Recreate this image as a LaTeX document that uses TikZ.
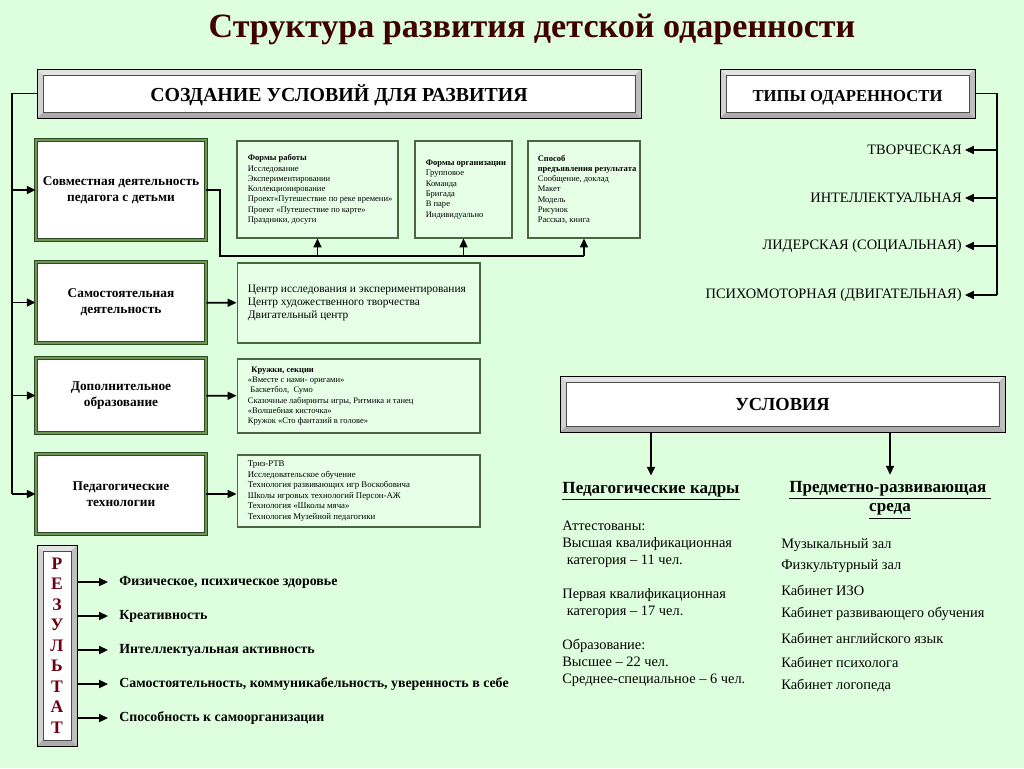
\documentclass[tikz,border=0pt]{standalone}
\usepackage{fontspec}
\setmainfont{Liberation Serif}
\usetikzlibrary{arrows.meta,positioning}

\definecolor{bgmint}{RGB}{222,255,222}
\definecolor{titlered}{RGB}{64,0,0}
\definecolor{letterred}{RGB}{110,0,20}
\definecolor{framegreen}{RGB}{45,75,35}
\definecolor{framelight}{RGB}{110,150,85}
\definecolor{detailline}{RGB}{75,100,65}
\definecolor{detailfill}{RGB}{230,255,230}

\newcommand{\bev}{3.4pt}

\tikzset{
  bevelbox/.style={draw=black, line width=.4pt, fill=white, inner sep=0pt,
    path picture={
      \path (path picture bounding box.north west) coordinate (bnw)
            (path picture bounding box.north east) coordinate (bne)
            (path picture bounding box.south west) coordinate (bsw)
            (path picture bounding box.south east) coordinate (bse);
      \fill[gray!22] (bnw) -- (bne) -- ([shift={(-\bev,-\bev)}]bne) -- ([shift={(\bev,-\bev)}]bnw) -- cycle;
      \fill[gray!35] (bnw) -- (bsw) -- ([shift={(\bev,\bev)}]bsw) -- ([shift={(\bev,-\bev)}]bnw) -- cycle;
      \fill[gray!50] (bne) -- (bse) -- ([shift={(-\bev,\bev)}]bse) -- ([shift={(-\bev,-\bev)}]bne) -- cycle;
      \fill[gray!65] (bsw) -- (bse) -- ([shift={(-\bev,\bev)}]bse) -- ([shift={(\bev,\bev)}]bsw) -- cycle;
      \draw[black!70, line width=.3pt] ([shift={(\bev,-\bev)}]bnw) rectangle ([shift={(-\bev,\bev)}]bse);
    }},
  leftbox/.style={draw=framegreen, double=framelight, double distance=1.4pt, line width=.5pt,
    fill=white, align=center, minimum width=3.4cm, inner sep=1pt,
    font=\fontsize{7.6}{9}\selectfont\bfseries},
  detailbox/.style={draw=detailline, line width=.6pt, fill=detailfill, inner sep=0pt},
  tinytext/.style={align=left, inner sep=0pt, font=\fontsize{4.85}{5.85}\selectfont},
  bodytext/.style={align=left, font=\fontsize{8.2}{9.64}\selectfont},
  conn/.style={line width=1pt},
  arr/.style={conn, -{Triangle[length=5pt,width=4.5pt]}},
  node distance=0.22cm
}

\begin{document}
\begin{tikzpicture}[x=0.02cm,y=-0.02cm]
  \useasboundingbox (0,0) rectangle (1024,768);
  \fill[bgmint] (0,0) rectangle (1024,768);

  \node[font=\fontsize{19.4}{22}\selectfont\bfseries, text=titlered] (title) at (532,29)
    {Структура развития детской одаренности};

  % headers
  \node[bevelbox, minimum width=12.08cm, minimum height=.98cm, text height=1.15em,
    font=\fontsize{11.3}{13}\selectfont\bfseries]
    (sozd) at (339,93.5) {СОЗДАНИЕ УСЛОВИЙ ДЛЯ РАЗВИТИЯ};
  \node[bevelbox, minimum width=5.1cm, minimum height=.98cm, text height=1.15em,
    font=\fontsize{9.5}{11}\selectfont\bfseries]
    (tipy) at (847.5,93.5) {ТИПЫ ОДАРЕННОСТИ};
  \node[bevelbox, minimum width=8.9cm, minimum height=1.12cm, font=\fontsize{10.5}{12}\selectfont\bfseries]
    (uslov) at (782.5,404) {УСЛОВИЯ};
  \node[bevelbox, minimum width=.8cm, minimum height=4.02cm, align=center, text=letterred,
    font=\fontsize{10}{11.7}\selectfont\bfseries]
    (rezult) at (57,645.5) {Р\\Е\\З\\У\\Л\\Ь\\Т\\А\\Т};

  % left column
  \node[leftbox, minimum height=2cm] (sovm) at (121,190) {Совместная деятельность\\педагога с детьми};
  \node[leftbox, minimum height=1.62cm] (samo) at (121,302.5) {Самостоятельная\\деятельность};
  \node[leftbox, minimum height=1.5cm] (dopo) at (121,395.5) {Дополнительное\\образование};
  \node[leftbox, minimum height=1.6cm] (pedt) at (121,494) {Педагогические\\технологии};

  % detail boxes
  \node[detailbox, minimum width=3.22cm, minimum height=1.94cm] (forms) at (317.5,189.5) {};
  \node[detailbox, minimum width=1.94cm, minimum height=1.94cm] (orgs) at (463.5,189.5) {};
  \node[detailbox, minimum width=2.24cm, minimum height=1.94cm] (sposob) at (584,189.5) {};
  \node[detailbox, minimum width=4.86cm, minimum height=1.6cm] (centr) at (358.5,303) {};
  \node[detailbox, minimum width=4.86cm, minimum height=1.48cm] (kruzh) at (358.5,396) {};
  \node[detailbox, minimum width=4.86cm, minimum height=1.44cm] (triz) at (358.5,491) {};

  \node[tinytext, right=of forms.west] (formstxt) {{\bfseries Формы работы}\\Исследование\\
    Экспериментировании\\Коллекционирование\\Проект«Путешествие по реке времени»\\
    Проект «Путешествие по карте»\\Праздники, досуги};
  \node[tinytext, right=of orgs.west] (orgstxt) {{\bfseries Формы организации}\\Групповое\\
    Команда\\Бригада\\В паре\\Индивидуально};
  \node[tinytext, right=0.2cm of sposob.west] (sposobtxt) {{\bfseries Способ}\\
    {\bfseries предъявления результата}\\Сообщение, доклад\\Макет\\Модель\\Рисунок\\Рассказ, книга};
  \node[tinytext, right=of centr.west, font=\fontsize{6.5}{7.65}\selectfont] (centrtxt)
    {Центр исследования и экспериментирования\\Центр художественного творчества\\Двигательный центр};
  \node[tinytext, right=of kruzh.west] (kruzhtxt) {\hspace*{2pt}{\bfseries Кружки, секции}\\
    «Вместе с нами- оригами»\\\hspace*{1.5pt}Баскетбол,\ \ Сумо\\
    Сказочные лабиринты игры, Ритмика и танец\\«Волшебная кисточка»\\Кружок «Сто фантазий в голове»};
  \node[tinytext, right=of triz.west, font=\fontsize{5}{6}\selectfont] (triztxt) {Триз-РТВ\\
    Исследовательское обучение\\Технология развивающих игр Воскобовича\\
    Школы игровых технологий Персон-АЖ\\Технология «Школы мяча»\\Технология Музейной педагогики};

  % left bus
  \coordinate (lbus) at (12,0);
  \draw[conn] (sozd.west) -- (sozd.west -| lbus) -- (lbus |- pedt.west);
  \foreach \b in {sovm,samo,dopo,pedt}
    \draw[arr] (lbus |- \b.west) -- (\b.west);
  \draw[arr] (samo) -- (centr);
  \draw[arr] (dopo) -- (kruzh);
  \draw[arr] (pedt.east) -- (pedt.east -| triz.west);

  % bus under the top boxes
  \coordinate (sbus) at (220,256);
  \draw[conn] (sovm.east) -| (sbus) -- (sbus -| sposob.south);
  \foreach \b in {forms,orgs,sposob}
    \draw[arr] (sbus -| \b.south) -- (\b.south);

  % types
  \coordinate (rbus) at (997,0);
  \foreach \txt/\yy [count=\i] in {ТВОРЧЕСКАЯ/150, ИНТЕЛЛЕКТУАЛЬНАЯ/198,
      ЛИДЕРСКАЯ (СОЦИАЛЬНАЯ)/246, ПСИХОМОТОРНАЯ (ДВИГАТЕЛЬНАЯ)/295}
    \node[anchor=east, inner xsep=0.06cm, font=\fontsize{8.2}{9.5}\selectfont] (type\i) at (965,\yy) {\txt};
  \draw[conn] (tipy.east) -- (tipy.east -| rbus) -- (rbus |- type4.east);
  \foreach \i in {1,...,4}
    \draw[arr] (rbus |- type\i.east) -- (type\i.east);

  % results
  \foreach \txt/\yy [count=\i] in {{Физическое, психическое здоровье}/582, Креативность/616,
      Интеллектуальная активность/650,
      {Самостоятельность, коммуникабельность, уверенность в себе}/684,
      Способность к самоорганизации/718}
  {
    \node[anchor=west, inner xsep=0.22cm, font=\fontsize{7.9}{9.5}\selectfont\bfseries] (res\i) at (108,\yy) {\txt};
    \draw[arr] (rezult.east |- res\i.west) -- (res\i.west);
  }

  % conditions
  \node[font=\fontsize{9.7}{11}\selectfont\bfseries] (kadr) at (651,491) {\underline{Педагогические кадры}};
  \node[align=center, font=\fontsize{9.7}{11.3}\selectfont\bfseries] (sreda) at (890,500)
    {\underline{Предметно-развивающая\ }\\\underline{среда}};
  \draw[arr] (uslov.south -| kadr.north) -- (kadr.north);
  \draw[arr] (uslov.south -| sreda.north) -- (sreda.north);

  \node[bodytext, anchor=north west, inner sep=0pt] (kadrinfo) at (562,521) {Аттестованы:\\
    Высшая квалификационная\\\hspace*{2.5pt}категория – 11 чел.\\[9.64pt]
    Первая квалификационная\\\hspace*{2.5pt}категория – 17 чел.\\[9.64pt]
    Образование:\\Высшее – 22 чел.\\Среднее-специальное – 6 чел.};

  \foreach \txt/\yy [count=\i] in {Музыкальный зал/545, Физкультурный зал/566, Кабинет ИЗО/590,
      Кабинет развивающего обучения/614, Кабинет английского язык/638,
      Кабинет психолога/662, Кабинет логопеда/686}
    \node[bodytext, anchor=west, inner sep=0pt] (room\i) at (781,\yy) {\txt};
\end{tikzpicture}
\end{document}
